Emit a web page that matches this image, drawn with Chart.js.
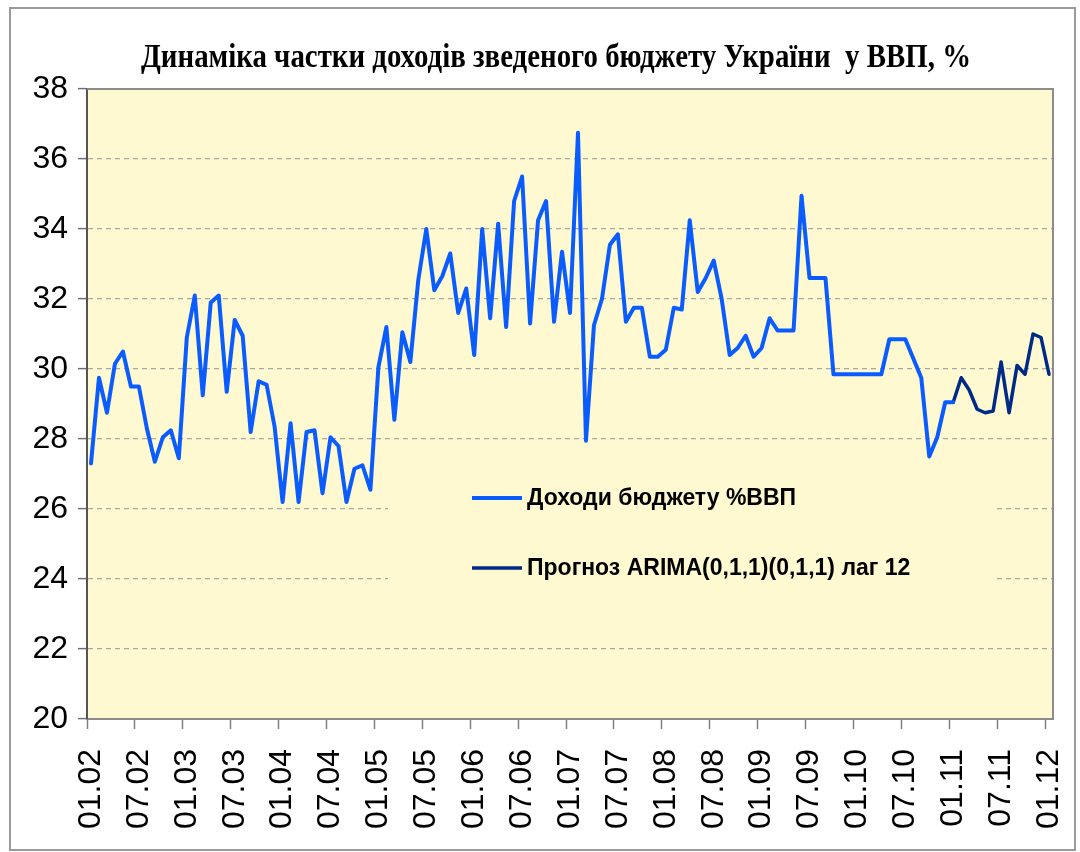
<!DOCTYPE html>
<html>
<head>
<meta charset="utf-8">
<script src="https://cdn.jsdelivr.net/npm/chart.js@4/dist/chart.umd.min.js"></script>
<style>
    body { margin: 0; background: #ffffff; }
    canvas { display: block; }
</style>
</head>
<body>
<canvas id="budgetChart" width="1080" height="852"></canvas>
<script>
// Monthly data, 01.2002 .. 01.2012
const startYear = 2002;
const endYear = 2012;

// Budget revenues, % of GDP (01.02 .. 01.11)
const incomeShare = [
    27.3, 29.75, 28.75, 30.15, 30.5, 29.5, 29.5, 28.3, 27.35, 28.05, 28.25, 27.45,
    30.9, 32.1, 29.25, 31.9, 32.1, 29.35, 31.4, 30.95, 28.2, 29.65, 29.55, 28.35,
    26.2, 28.45, 26.2, 28.2, 28.25, 26.45, 28.05, 27.8, 26.2, 27.15, 27.25, 26.55,
    30.05, 31.2, 28.55, 31.05, 30.2, 32.55, 34.0, 32.25, 32.65, 33.3, 31.6, 32.3,
    30.4, 34.0, 31.45, 34.15, 31.2, 34.8, 35.5, 31.3, 34.25, 34.8, 31.35, 33.35,
    31.6, 36.75, 27.95, 31.25, 32.0, 33.55, 33.85, 31.35, 31.75, 31.75, 30.35, 30.35,
    30.55, 31.75, 31.7, 34.25, 32.2, 32.6, 33.1, 32.0, 30.4, 30.6, 30.95, 30.35,
    30.6, 31.45, 31.1, 31.1, 31.1, 34.95, 32.6, 32.6, 32.6, 29.85, 29.85, 29.85,
    29.85, 29.85, 29.85, 29.85, 30.85, 30.85, 30.85, 30.3, 29.75, 27.5, 28.05, 29.05,
    29.05
];

// ARIMA forecast (01.11 .. 01.12)
const forecast = [29.05, 29.75, 29.4, 28.85, 28.75, 28.8, 30.2, 28.75, 30.1, 29.85, 31.0, 30.9, 29.85];

const seriesNames = ['Доходи бюджету %ВВП', 'Прогноз ARIMA(0,1,1)(0,1,1) лаг 12'];
const seriesColors = ['#0a5cff', '#002a86'];
const titleText = 'Динаміка частки доходів зведеного бюджету України  у ВВП, %';

const yMin = 20;
const yMax = 38;
const yStep = 2;

// month labels like 01.02, 02.02 ...
const months = [];
for (let y = startYear; y <= endYear; ++y) {
    for (let m = 1; m <= 12; ++m) {
        if (y === endYear && m > 1) break;
        months.push(String(m).padStart(2, '0') + '.' + String(y % 100).padStart(2, '0'));
    }
}

const forecastStart = months.length - forecast.length;
const incomeData = months.map((_, i) => i < incomeShare.length ? incomeShare[i] : null);
const forecastData = months.map((_, i) => i >= forecastStart ? forecast[i - forecastStart] : null);

const plotBg = '#fef9d0';
const fontSans = '"Liberation Sans", Arial, sans-serif';

const decorPlugin = {
    id: 'decor',
    beforeDraw(chart) {
        const ctx = chart.ctx;
        const a = chart.chartArea;
        ctx.save();
        // outer frame
        ctx.strokeStyle = '#9a9a9a';
        ctx.lineWidth = 2;
        ctx.strokeRect(10, 8, 1065, 842);
        // plot area
        ctx.fillStyle = plotBg;
        ctx.fillRect(a.left, a.top, a.right - a.left, a.bottom - a.top);
        ctx.restore();
    },
    beforeDatasetsDraw(chart) {
        // legend box sits inside the plot area and hides the grid
        const ctx = chart.ctx;
        ctx.save();
        ctx.fillStyle = plotBg;
        ctx.fillRect(388, 458, 606, 152);
        const rows = [498, 568];
        chart.data.datasets.forEach((ds, i) => {
            ctx.strokeStyle = ds.borderColor;
            ctx.lineWidth = ds.borderWidth;
            ctx.beginPath();
            ctx.moveTo(472, rows[i]);
            ctx.lineTo(522, rows[i]);
            ctx.stroke();
            ctx.fillStyle = '#000';
            ctx.font = 'bold 23px ' + fontSans;
            ctx.textBaseline = 'middle';
            ctx.textAlign = 'left';
            ctx.fillText(ds.label, 527, rows[i] + 1);
        });
        ctx.restore();
    },
    afterDraw(chart) {
        const ctx = chart.ctx;
        const a = chart.chartArea;
        ctx.save();
        // top and right edges of plot area
        ctx.strokeStyle = '#8c8c8c';
        ctx.lineWidth = 2;
        ctx.beginPath();
        ctx.moveTo(a.left, a.top);
        ctx.lineTo(a.right, a.top);
        ctx.lineTo(a.right, a.bottom);
        ctx.stroke();
        // title, condensed like the original
        ctx.font = 'bold 30px "Liberation Serif", "Times New Roman", serif';
        const w = ctx.measureText(titleText).width;
        ctx.translate(556, 58);
        ctx.scale(830 / w, 1.1);
        ctx.fillStyle = '#000';
        ctx.textAlign = 'center';
        ctx.textBaseline = 'middle';
        ctx.fillText(titleText, 0, 0);
        ctx.restore();
    }
};

const config = {
    type: 'line',
    data: {
        labels: months,
        datasets: [
            {
                label: seriesNames[0],
                data: incomeData,
                borderColor: seriesColors[0],
                borderWidth: 4,
                pointRadius: 0,
                tension: 0,
                borderJoinStyle: 'round',
                borderCapStyle: 'round',
                spanGaps: false
            },
            {
                label: seriesNames[1],
                data: forecastData,
                borderColor: seriesColors[1],
                borderWidth: 3.5,
                pointRadius: 0,
                tension: 0,
                borderJoinStyle: 'round',
                borderCapStyle: 'round',
                spanGaps: false
            }
        ]
    },
    options: {
        responsive: false,
        devicePixelRatio: 1,
        animation: false,
        layout: { padding: { top: 89, right: 27, bottom: 0, left: 0 } },
        plugins: {
            legend: { display: false },
            title: { display: false },
            tooltip: { enabled: false }
        },
        scales: {
            x: {
                offset: true,
                grid: {
                    offset: true,
                    drawOnChartArea: false,
                    drawTicks: true,
                    tickLength: 10,
                    tickColor: (c) => c.index % 6 === 0 ? '#808080' : 'rgba(0,0,0,0)',
                    tickWidth: 1.5
                },
                border: { display: true, color: '#8c8c8c', width: 2 },
                ticks: {
                    autoSkip: false,
                    minRotation: 90,
                    maxRotation: 90,
                    padding: 20,
                    color: '#000',
                    font: { family: fontSans, size: 32 },
                    callback: (val, i) => i % 6 === 0 ? months[i] : ''
                },
                afterFit: (scale) => {
                    scale.height = 133;
                    scale.paddingLeft = 0;
                    scale.paddingRight = 0;
                }
            },
            y: {
                min: yMin,
                max: yMax,
                grid: {
                    drawOnChartArea: true,
                    color: (c) => (c.tick && (c.tick.value === yMin || c.tick.value === yMax)) ? 'rgba(0,0,0,0)' : '#a8a8a8',
                    lineWidth: 1.2,
                    tickColor: '#707070',
                    tickLength: 9,
                    tickWidth: 1.5
                },
                border: { display: true, color: '#555555', width: 2, dash: [5, 4] },
                ticks: {
                    stepSize: yStep,
                    padding: 10,
                    color: '#000',
                    font: { family: fontSans, size: 32 }
                },
                afterFit: (scale) => {
                    scale.width = 87;
                    scale.paddingTop = 0;
                    scale.paddingBottom = 0;
                }
            }
        }
    },
    plugins: [decorPlugin]
};

new Chart(document.getElementById('budgetChart'), config);
</script>
</body>
</html>
